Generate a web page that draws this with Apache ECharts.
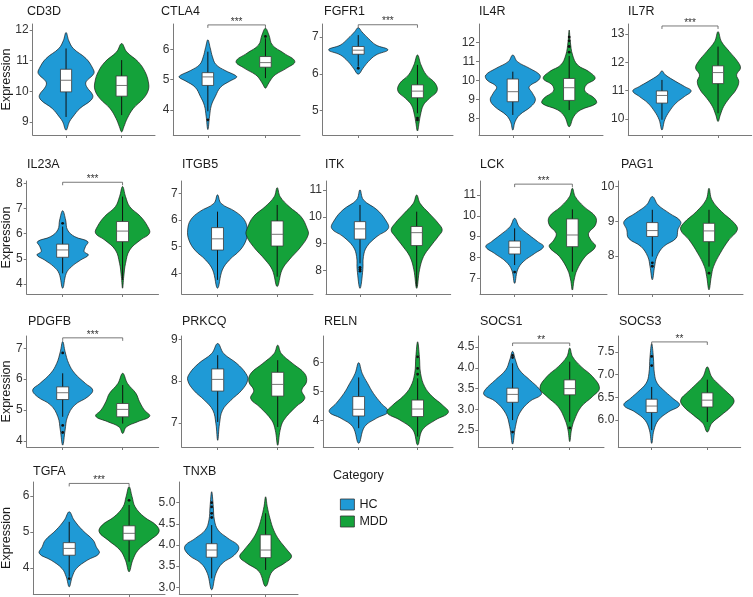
<!DOCTYPE html>
<html><head><meta charset="utf-8">
<script src="https://cdn.jsdelivr.net/npm/echarts@6/dist/echarts.min.js"></script>
<style>html,body{margin:0;padding:0;background:#fff}#c{width:753px;height:597px}</style>
</head><body><div id="c"></div>
<script>
// ---------------- data ----------------
const genes = ['CD3D','CTLA4','FGFR1','IL4R','IL7R','IL23A','ITGB5','ITK','LCK','PAG1','PDGFB','PRKCQ','RELN','SOCS1','SOCS3','TGFA','TNXB'];
const groups = ['HC','MDD'];
const yMin = [8.57,3.18,4.34,7.12,9.43, 3.6,3.22,7.13,6.25,6.9, 3.8,6.42,3.09,2.09,5.41, 3.27,2.84];
const yMax = [12.2,6.83,7.35,12.99,13.36, 8.09,7.46,11.33,11.67,10.16, 7.4,9.08,6.92,4.77,7.85, 6.39,5.49];
const yTicks = [[9,10,11,12],[4,5,6],[5,6,7],[8,9,10,11,12],[10,11,12,13],
  [4,5,6,7,8],[4,5,6,7],[8,9,10,11],[7,8,9,10,11],[8,9,10],
  [4,5,6,7],[7,8,9],[4,5,6],[2.5,3.0,3.5,4.0,4.5],[6.0,6.5,7.0,7.5],
  [4,5,6],[3.0,3.5,4.0,4.5,5.0]];
const sigLabel = ['','***','***','','***', '***','','','***','', '***','','','**','**', '***',''];
const sigY = [null,6.8,7.33,null,13.29, 8.04,null,null,11.52,null, 7.34,null,null,4.6,7.72, 6.35,null];
// box stats: [lower whisker, Q1, median, Q3, upper whisker]
const boxHC = [[9.16,9.98,10.36,10.72,11.4],[3.96,4.81,5.09,5.23,5.92],[6.2,6.53,6.64,6.74,7.05],[8.18,8.88,9.41,10.08,10.47],[9.97,10.56,10.83,10.99,11.38],
  [4.42,5.06,5.35,5.58,6.28],[3.75,4.87,5.29,5.71,6.31],[8.27,9.17,9.55,9.82,10.44],[7.64,8.17,8.49,8.79,9.4],[7.98,8.56,8.73,8.96,9.33],
  [4.78,5.34,5.56,5.75,6.19],[7.02,7.76,8.04,8.29,8.62],[3.74,4.16,4.39,4.83,5.49],[2.74,3.17,3.36,3.51,4.11],[5.78,6.17,6.31,6.46,6.73],
  [3.75,4.35,4.54,4.7,5.28],[3.21,3.71,3.88,4.03,4.47]];
const boxMDD = [[9.22,9.84,10.19,10.5,11.02],[5.05,5.41,5.56,5.76,6.36],[4.93,5.35,5.53,5.7,6.24],[8.44,8.95,9.62,10.11,11.3],[10.2,11.25,11.64,11.88,12.56],
  [4.16,5.68,6.1,6.48,7.47],[3.87,5.02,5.46,5.96,6.56],[7.41,8.93,9.41,9.64,10.19],[7.32,8.52,9.08,9.85,10.31],[7.69,8.41,8.72,8.94,9.33],
  [4.56,4.78,5.02,5.21,5.81],[6.9,7.64,7.92,8.21,8.5],[3.45,4.14,4.4,4.71,5.46],[2.7,3.35,3.5,3.71,4.15],[5.96,6.29,6.44,6.6,6.89],
  [4.17,4.77,4.96,5.17,5.75],[3.41,3.7,3.88,4.24,4.75]];
const outHC = [[],[3.68],[6.15],[],[], [6.41],[],[8.12,8.05,7.98],[7.3],[7.8,7.7], [6.85,4.5,4.27],[],[],[4.25,4.3,2.45],[7.4,7.2], [3.7],[5.0,4.9,4.75,4.65]];
const outMDD = [[],[6.42],[4.8,4.75],[11.5,11.8,12.1,12.3],[], [],[],[],[],[7.5], [],[],[6.2,5.8,5.6],[2.55],[], [5.88],[]];
// violin outlines: [expression, half width (fraction of group spacing)], top to bottom
const violinHC = [
  [[11.92,0],[11.65,0.05],[11.4,0.13],[11.07,0.36],[10.75,0.48],[10.58,0.5],[10.31,0.36],[10.15,0.37],[9.87,0.48],[9.71,0.45],[9.44,0.25],[9.16,0.12],[9.0,0.06],[8.73,0]],
  [[6.31,0],[6.05,0.04],[5.75,0.08],[5.5,0.14],[5.3,0.3],[5.15,0.47],[5.08,0.5],[4.95,0.38],[4.75,0.22],[4.45,0.13],[4.15,0.06],[3.8,0.03],[3.36,0]],
  [[7.25,0],[7.14,0.06],[6.96,0.17],[6.78,0.3],[6.65,0.5],[6.51,0.3],[6.33,0.17],[6.15,0.08],[5.99,0]],
  [[11.35,0],[11.0,0.08],[10.64,0.3],[10.29,0.48],[10.03,0.46],[9.67,0.29],[9.32,0.35],[8.97,0.4],[8.62,0.32],[8.18,0.12],[7.82,0.04],[7.38,0]],
  [[11.7,0],[11.56,0.06],[11.32,0.25],[11.15,0.4],[10.99,0.52],[10.79,0.4],[10.56,0.25],[10.26,0.13],[9.97,0.05],[9.61,0]],
  [[6.91,0],[6.54,0.05],[6.15,0.08],[5.88,0.2],[5.68,0.42],[5.48,0.38],[5.28,0.36],[5.15,0.43],[4.95,0.3],[4.69,0.15],[4.42,0.06],[3.83,0]],
  [[6.94,0],[6.62,0.06],[6.31,0.3],[6.0,0.45],[5.62,0.5],[5.25,0.48],[4.87,0.38],[4.5,0.2],[4.12,0.08],[3.44,0]],
  [[11.0,0],[10.63,0.06],[10.26,0.3],[9.88,0.45],[9.57,0.5],[9.27,0.3],[8.89,0.12],[8.52,0.06],[8.03,0.05],[7.34,0]],
  [[9.88,0],[9.48,0.08],[9.08,0.25],[8.76,0.4],[8.52,0.5],[8.2,0.35],[7.8,0.15],[7.4,0.05],[6.76,0]],
  [[9.71,0],[9.47,0.1],[9.23,0.3],[8.99,0.5],[8.75,0.45],[8.51,0.42],[8.27,0.2],[7.98,0.08],[7.69,0.04],[7.31,0]],
  [[7.22,0],[6.89,0.04],[6.51,0.1],[6.19,0.2],[5.86,0.38],[5.65,0.5],[5.43,0.42],[5.16,0.2],[4.78,0.08],[4.35,0.04],[3.86,0]],
  [[8.9,0],[8.66,0.1],[8.42,0.32],[8.18,0.47],[8.02,0.5],[7.78,0.4],[7.54,0.22],[7.3,0.08],[6.98,0.03],[6.58,0]],
  [[6.0,0],[5.63,0.06],[5.29,0.15],[4.94,0.25],[4.6,0.38],[4.31,0.5],[4.08,0.3],[3.79,0.1],[3.22,0]],
  [[4.4,0],[4.19,0.05],[3.95,0.12],[3.71,0.3],[3.47,0.48],[3.35,0.5],[3.19,0.3],[2.9,0.12],[2.58,0.05],[2.16,0]],
  [[7.68,0],[7.39,0.03],[7.02,0.05],[6.81,0.1],[6.62,0.25],[6.48,0.38],[6.33,0.5],[6.18,0.3],[6.0,0.12],[5.78,0.04],[5.49,0]],
  [[5.56,0],[5.33,0.08],[5.05,0.22],[4.77,0.4],[4.59,0.45],[4.4,0.5],[4.21,0.3],[3.98,0.12],[3.75,0.05],[3.47,0]],
  [[5.26,0],[4.91,0.03],[4.59,0.05],[4.35,0.12],[4.16,0.3],[3.96,0.5],[3.76,0.42],[3.57,0.2],[3.33,0.08],[2.94,0]]
];
const violinMDD = [
  [[11.56,0],[11.29,0.09],[10.96,0.3],[10.64,0.42],[10.31,0.48],[10.04,0.48],[9.76,0.39],[9.44,0.21],[9.11,0.1],[8.84,0.04],[8.67,0]],
  [[6.69,0],[6.47,0.06],[6.14,0.12],[5.87,0.32],[5.6,0.51],[5.38,0.37],[5.16,0.17],[4.99,0.09],[4.83,0.04],[4.72,0]],
  [[6.51,0],[6.24,0.06],[5.97,0.15],[5.74,0.3],[5.53,0.33],[5.33,0.2],[5.15,0.1],[4.88,0.05],[4.7,0.03],[4.45,0]],
  [[12.67,0],[12.05,0.02],[11.35,0.06],[10.82,0.15],[10.47,0.35],[10.11,0.46],[9.76,0.3],[9.44,0.28],[9.06,0.45],[8.79,0.48],[8.44,0.2],[8.09,0.08],[7.56,0]],
  [[13.09,0],[12.74,0.06],[12.39,0.2],[12.03,0.35],[11.8,0.4],[11.56,0.33],[11.32,0.37],[11.03,0.32],[10.73,0.2],[10.44,0.1],[10.14,0.04],[9.91,0]],
  [[7.87,0],[7.47,0.05],[7.07,0.12],[6.68,0.3],[6.28,0.42],[6.01,0.45],[5.75,0.3],[5.35,0.12],[4.82,0.05],[4.29,0.02],[3.83,0]],
  [[7.21,0],[6.87,0.05],[6.5,0.2],[6.12,0.4],[5.69,0.5],[5.44,0.52],[5.0,0.4],[4.5,0.2],[4.12,0.08],[3.5,0]],
  [[10.81,0],[10.5,0.06],[10.13,0.22],[9.76,0.38],[9.51,0.45],[9.27,0.38],[8.89,0.24],[8.52,0.12],[8.03,0.05],[7.34,0]],
  [[11.32,0],[10.92,0.05],[10.44,0.2],[9.96,0.4],[9.56,0.4],[9.16,0.28],[8.84,0.32],[8.52,0.4],[8.04,0.22],[7.4,0.08],[6.92,0.03],[6.44,0]],
  [[9.95,0],[9.62,0.05],[9.28,0.22],[8.94,0.45],[8.75,0.5],[8.46,0.35],[8.08,0.2],[7.69,0.08],[7.4,0.04],[7.02,0]],
  [[6.19,0],[5.86,0.08],[5.54,0.22],[5.27,0.28],[5.0,0.36],[4.8,0.45],[4.62,0.25],[4.45,0.06],[4.24,0]],
  [[8.86,0],[8.66,0.06],[8.42,0.25],[8.18,0.45],[7.98,0.48],[7.78,0.4],[7.58,0.45],[7.38,0.3],[7.06,0.1],[6.82,0.04],[6.46,0]],
  [[6.72,0],[6.21,0.03],[5.63,0.05],[5.17,0.12],[4.83,0.25],[4.54,0.42],[4.28,0.52],[4.02,0.3],[3.68,0.08],[3.16,0]],
  [[4.48,0],[4.27,0.05],[4.03,0.2],[3.79,0.4],[3.51,0.52],[3.31,0.4],[3.06,0.2],[2.74,0.08],[2.5,0.03],[2.22,0]],
  [[7.17,0],[6.95,0.08],[6.77,0.22],[6.62,0.35],[6.44,0.48],[6.29,0.42],[6.11,0.25],[5.93,0.08],[5.74,0]],
  [[6.26,0],[5.98,0.05],[5.7,0.1],[5.42,0.25],[5.19,0.45],[5.0,0.5],[4.77,0.35],[4.49,0.15],[4.21,0.06],[3.89,0]],
  [[5.14,0],[4.91,0.03],[4.63,0.08],[4.35,0.15],[4.12,0.25],[3.88,0.4],[3.72,0.48],[3.57,0.35],[3.37,0.12],[3.02,0]]
];

// ---------------- layout & style ----------------
const panelBox = [ // [left, top, right, bottom] in px
  [32.7,24,155,135],[173.3,24,300,135],[322.7,24,453,135],[479,24,603,135],[628.3,24,751.7,135],
  [26.7,181,158.5,294],[181.7,181,313,294],[326,181,450.7,294],[480,181,607,294],[618.3,181,743,294],
  [26.7,336,158.7,447],[181.7,336,313.7,447],[323.3,336,453,447],[478.3,336,604,447],[618.3,336,740.7,447],
  [33.3,482,165,594],[179.3,482,298,594]
];
const titleX = [27,161,324,479,628, 27,182,325,480,621, 28,182,324,480,619, 33,183];
const titleY = [12,12,12,12,12, 165,165,165,165,165, 322,322,322,322,322, 472,472];
const COLORS = {HC:'#1F9AD6', MDD:'#14A23A'};
const FONT = '"Liberation Sans", Arial, sans-serif';
const AXIS_COLOR = '#7a7a7a';

function violinItem(vi, box, outs, xc, color) {
  return function (params, api) {
    const n = vi.length;
    const pts = [api.coord([xc, vi[0][0]])];
    for (let k = 1; k < n - 1; k++) pts.push(api.coord([xc + vi[k][1], vi[k][0]]));
    pts.push(api.coord([xc, vi[n - 1][0]]));
    for (let k = n - 2; k >= 1; k--) pts.push(api.coord([xc - vi[k][1], vi[k][0]]));
    const [lo, q1, md, q3, hi] = box;
    const bw = 0.1;
    const pLo = api.coord([xc, lo]), pHi = api.coord([xc, hi]);
    const a = api.coord([xc - bw, q3]), b = api.coord([xc + bw, q1]);
    const m1 = api.coord([xc - bw, md]), m2 = api.coord([xc + bw, md]);
    const children = [
      {type:'polygon', shape:{points:pts, smooth:0.4}, style:{fill:color, stroke:'#1a1a1a', lineWidth:0.7}},
      {type:'line', shape:{x1:pLo[0], y1:pLo[1], x2:pHi[0], y2:pHi[1]}, style:{stroke:'#111', lineWidth:1}},
      {type:'rect', shape:{x:a[0], y:a[1], width:b[0]-a[0], height:b[1]-a[1]}, style:{fill:'#fff', stroke:'#3a3a3a', lineWidth:0.8}},
      {type:'line', shape:{x1:m1[0], y1:m1[1], x2:m2[0], y2:m2[1]}, style:{stroke:'#666', lineWidth:0.9}}
    ];
    outs.forEach(o => {
      const p = api.coord([xc, o]);
      children.push({type:'circle', shape:{cx:p[0], cy:p[1], r:1.4}, style:{fill:'#111'}});
    });
    return {type:'group', children};
  };
}
function bracketItem(y, label) {
  return function (params, api) {
    const a = api.coord([1, y]), b = api.coord([2, y]);
    return {type:'group', children:[
      {type:'polyline', shape:{points:[[a[0], a[1]+3],[a[0], a[1]],[b[0], b[1]],[b[0], b[1]+3]]}, style:{stroke:'#555', lineWidth:0.8, fill:null}},
      {type:'text', x:(a[0]+b[0])/2, y:a[1]+2, style:{text:label, textAlign:'center', textVerticalAlign:'bottom', font:'10px '+FONT, fill:'#333'}}
    ]};
  };
}

const grids = [], xAxes = [], yAxes = [], series = [], graphics = [];
genes.forEach((g, i) => {
  const [L, T, R, B] = panelBox[i];
  grids.push({left:L, top:T, width:R-L, height:B-T, outerBoundsMode:'none'});
  xAxes.push({type:'value', gridIndex:i, min:0.4, max:2.6,
    axisLine:{show:true, lineStyle:{color:AXIS_COLOR, width:1}},
    axisTick:{show:true, customValues:[1,2], length:3, lineStyle:{color:AXIS_COLOR}},
    axisLabel:{show:false}, splitLine:{show:false}});
  const dec = yTicks[i].some(v => v % 1 !== 0);
  yAxes.push({type:'value', gridIndex:i, min:yMin[i], max:yMax[i],
    axisLine:{show:true, lineStyle:{color:AXIS_COLOR, width:1}},
    axisTick:{show:true, customValues:yTicks[i], length:3, lineStyle:{color:AXIS_COLOR}},
    axisLabel:{show:true, customValues:yTicks[i], margin:4, color:'#333', fontSize:12, fontFamily:FONT,
      formatter: v => dec ? Number(v).toFixed(1) : String(v)},
    splitLine:{show:false}});
  [['HC', violinHC[i], boxHC[i], outHC[i], 1], ['MDD', violinMDD[i], boxMDD[i], outMDD[i], 2]].forEach(([name, vi, bx, outs, xc]) => {
    series.push({type:'custom', name, xAxisIndex:i, yAxisIndex:i, clip:false,
      itemStyle:{color:COLORS[name]}, data:[[xc, bx[2]]],
      renderItem: violinItem(vi, bx, outs, xc, COLORS[name])});
  });
  if (sigLabel[i]) {
    series.push({type:'custom', name:'sig', xAxisIndex:i, yAxisIndex:i, clip:false, silent:true,
      data:[[1.5, sigY[i]]], renderItem: bracketItem(sigY[i], sigLabel[i])});
  }
  graphics.push({type:'text', x:titleX[i], y:titleY[i], style:{text:g, font:'12.5px '+FONT, fill:'#1a1a1a', textVerticalAlign:'middle'}});
  if (L < 40) {
    graphics.push({type:'text', x:7, y:(T+B)/2, rotation:Math.PI/2,
      style:{text:'Expression', font:'12.5px '+FONT, fill:'#1a1a1a', textAlign:'center', textVerticalAlign:'middle'}});
  }
});
graphics.push({type:'text', x:333, y:476, style:{text:'Category', font:'12.5px '+FONT, fill:'#1a1a1a', textVerticalAlign:'middle'}});

const chart = echarts.init(document.getElementById('c'), null, {renderer:'canvas'});
chart.setOption({
  animation:false,
  backgroundColor:'#fff',
  grid:grids, xAxis:xAxes, yAxis:yAxes, series,
  legend:{orient:'vertical', left:335, top:493, itemWidth:14, itemHeight:11, itemGap:4, icon:'rect',
    textStyle:{fontSize:12.5, fontFamily:FONT, color:'#1a1a1a'},
    data:[{name:'HC', itemStyle:{color:COLORS.HC, borderColor:'#333', borderWidth:0.8}},
          {name:'MDD', itemStyle:{color:COLORS.MDD, borderColor:'#333', borderWidth:0.8}}]},
  graphic:graphics
});
</script></body></html>
